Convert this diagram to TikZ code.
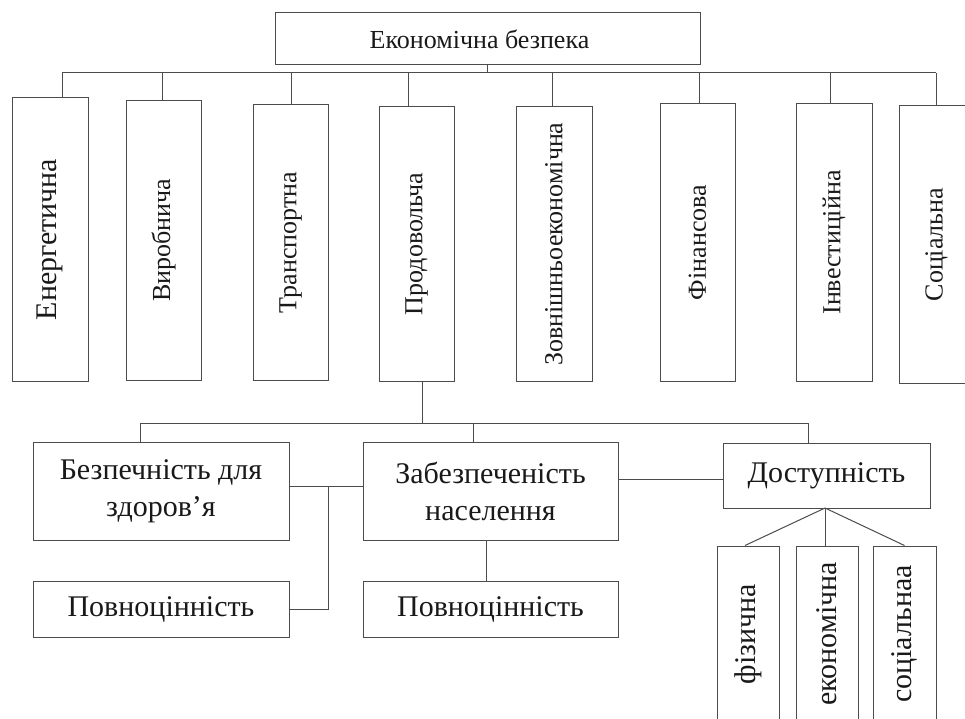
\documentclass[tikz,border=0pt]{standalone}
\usepackage{fontspec}
\setmainfont{Liberation Serif}
\usetikzlibrary{calc}
\begin{document}
\begin{tikzpicture}[x=1pt,y=-1pt,
  box/.style={draw=black!70, line width=1pt, rectangle, inner sep=0pt, align=center, text=black!90},
  vbox/.style={box, rotate=90},
  con/.style={draw=black!70, line width=1pt},
  fsA/.style={font=\fontsize{26}{30}\selectfont},
  fsB/.style={font=\fontsize{30}{37}\selectfont}]
\useasboundingbox (0,0) rectangle (965,719);
\clip (0,0) rectangle (965,719);
% top
\node[box, fsA, minimum width=425pt, minimum height=52pt] (top) at (487.5,39) {Економічна безпека\hspace*{16pt}};
% level 1 (rotated: width <-> height)
\node[vbox, fsB, minimum width=283pt, minimum height=76pt] (ener) at (50,239.5) {Енергетична};
\node[vbox, fsA, minimum width=279pt, minimum height=75pt] (vyr) at (163.5,240.5) {Виробнича};
\node[vbox, fsA, minimum width=275pt, minimum height=75pt] (trans) at (290.5,242.5) {Транспортна};
\node[vbox, fsA, minimum width=274pt, minimum height=75pt] (prod) at (416.5,244) {Продовольча};
\node[vbox, fsA, minimum width=274pt, minimum height=76pt] (zovn) at (554,244) {Зовнішньоекономічна};
\node[vbox, fsA, minimum width=277pt, minimum height=75pt] (fin) at (697.5,242.5) {Фінансова};
\node[vbox, fsA, minimum width=277pt, minimum height=76pt] (inv) at (834,242.5) {Інвестиційна};
\node[vbox, fsA, minimum width=277pt, minimum height=75pt] (soc) at (936.5,244.5) {Соціальна};
% bus level 1
\coordinate (s1) at (62,73);
\coordinate (s2) at (162,73);
\coordinate (s3) at (291,73);
\coordinate (s4) at (408,73);
\coordinate (s5) at (552,73);
\coordinate (s6) at (699,73);
\coordinate (s7) at (830,73);
\coordinate (s8) at (936,73);
\draw[con] (top.south) -- (top.south |- s1);
\draw[con] (s1) -- (s8);
\draw[con] (s1) -- (ener.east -| s1);
\draw[con] (s2) -- (vyr.east -| s2);
\draw[con] (s3) -- (trans.east -| s3);
\draw[con] (s4) -- (prod.east -| s4);
\draw[con] (s5) -- (zovn.east -| s5);
\draw[con] (s6) -- (fin.east -| s6);
\draw[con] (s7) -- (inv.east -| s7);
\draw[con] (s8) -- (soc.east -| s8);
% level 2
\node[box, fsB, minimum width=256pt, minimum height=98pt] (bez) at (161,491) {Безпечність для\\здоров’я};
\node[box, fsB, minimum width=255pt, minimum height=98pt] (zab) at (490.5,491) {Забезпеченість\\населення};
\node[box, fsB, minimum width=207pt, minimum height=65pt] (dost) at (826.5,475.5) {Доступність};
\node[box, fsB, minimum width=256pt, minimum height=56pt] (povn1) at (161,609) {Повноцінність};
\node[box, fsB, minimum width=255pt, minimum height=56pt] (povn2) at (490.5,609) {Повноцінність};
\coordinate (p) at (422,423);
\coordinate (b1) at (140,423);
\coordinate (b2) at (473,423);
\coordinate (b3) at (808,423);
\draw[con] (prod.west -| p) -- (p);
\draw[con] (b1) -- (b3);
\draw[con] (b1) -- (bez.north -| b1);
\draw[con] (b2) -- (zab.north -| b2);
\draw[con] (b3) -- (dost.north -| b3);
\coordinate (h1) at (328,486);
\draw[con] (bez.east |- h1) -- (zab.west |- h1);
\draw[con] (h1) |- (povn1.east);
\coordinate (h3) at (670,479);
\draw[con] (zab.east |- h3) -- (dost.west |- h3);
\coordinate (m1) at (486,560);
\draw[con] (zab.south -| m1) -- (povn2.north -| m1);
% level 3
\node[vbox, fsB, minimum width=176pt, minimum height=62pt] (fiz) at (748,634) {фізична};
\node[vbox, fsB, minimum width=176pt, minimum height=62pt] (ekon) at (827,634) {економічна};
\node[vbox, fsB, minimum width=176pt, minimum height=63pt] (socb) at (904.5,634) {соціальнаа};
\coordinate (d0) at (825,508);
\draw[con] (d0) -- ($(fiz.east)+(-3,0)$);
\draw[con] (d0) -- (ekon.east -| d0);
\draw[con] (d0) -- (socb.east);
\end{tikzpicture}
\end{document}
